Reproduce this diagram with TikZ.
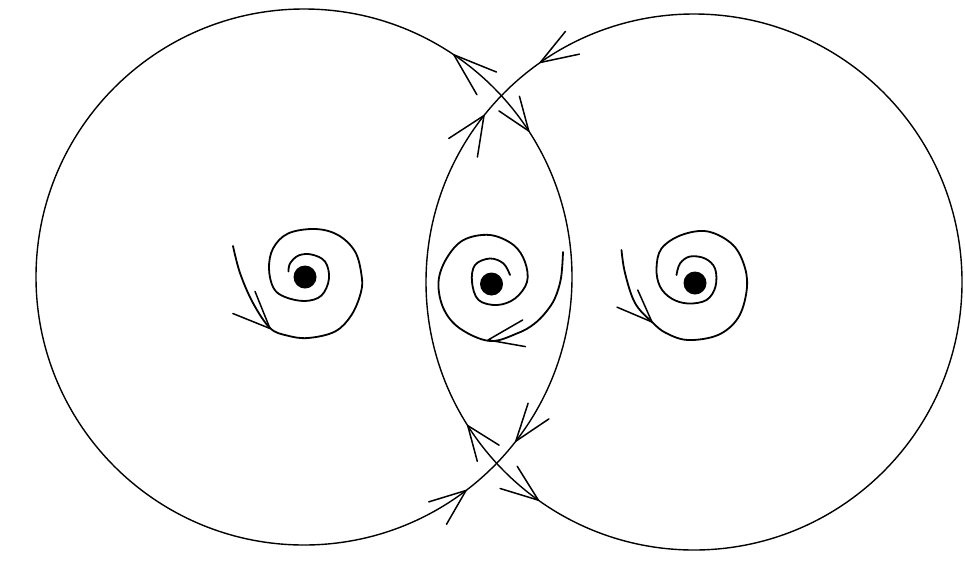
\documentclass[tikz,border=0pt]{standalone}
\begin{document}
\begin{tikzpicture}[x=1pt,y=-1pt,
  orbit/.style={line width=1.4pt},
  spiralline/.style={line width=1.8pt, line join=round, line cap=round},
  barb/.style={line width=1.5pt, line cap=round},
  eqpoint/.style={fill=black}]
\useasboundingbox[fill=white] (0,0) rectangle (965,574);
% the two circular orbits
\coordinate (C1) at (304,277);
\coordinate (C2) at (694,282);
\draw[orbit] (C1) circle[radius=268];
\draw[orbit] (C2) circle[radius=268];
% arrow tips on the circles
\path (C1) ++(-56:268) coordinate (A1);
\path (C1) ++(-33:268) coordinate (A2);
\path (C1) ++(37.8:268) coordinate (A3);
\path (C1) ++(52.8:268) coordinate (A4);
\path (C2) ++(-125:268) coordinate (B1);
\path (C2) ++(-141.6:268) coordinate (B2);
\path (C2) ++(147.6:268) coordinate (B3);
\path (C2) ++(125.5:268) coordinate (B4);
\draw[barb] (A1) -- ++(60:46) (A1) -- ++(22:46);
\draw[barb] (A2) -- ++(-105:36) (A2) -- ++(-146:36);
\draw[barb] (A3) -- ++(-72:40) (A3) -- ++(-34:40);
\draw[barb] (A4) -- ++(163:39) (A4) -- ++(120:39);
\draw[barb] (B1) -- ++(-51:40) (B1) -- ++(-12:40);
\draw[barb] (B2) -- ++(147:42) (B2) -- ++(99:42);
\draw[barb] (B3) -- ++(32:37) (B3) -- ++(75:37);
\draw[barb] (B4) -- ++(-163:40) (B4) -- ++(-122:40);
% equilibrium points
\fill[eqpoint] (305,277) circle[radius=11.5];
\fill[eqpoint] (491.5,284) circle[radius=11.5];
\fill[eqpoint] (695,283) circle[radius=11.5];
% left spiral
\draw[spiralline] plot[smooth, tension=0.6] coordinates {
 (233,246) (240,273) (253,303) (270,328) (287,335.5) (308,338) (335,331.5)
 (351.5,315) (361,292) (361.5,275) (355,251.5) (338,235) (315,229)
 (288,233.5) (273,248.5) (269,268.5) (273.5,288) (285,297) (305,301)
 (321.5,295.5) (329,278.5) (325,261.5) (311.5,254.5) (298.5,255.5)
 (290,263.5) (288.5,271.5)};
\coordinate (L) at (270,328.5);
\draw[barb] (L) -- ++(-158:40) (L) -- ++(-112:40);
% middle spiral
\draw[spiralline] plot[smooth, tension=0.6] coordinates {
 (563,252) (561,278) (555,298) (546,312) (534,324) (518,333) (490,341)
 (460,328.5) (443.5,308.5) (438.5,282) (446.5,258.5) (463.5,240) (490,235)
 (513.5,245) (525,262) (527,282) (515,298.5) (497,305) (478.5,300)
 (472,282) (475,265) (490,258.5) (503.5,263.5) (510,275)};
\coordinate (M) at (488,340);
\draw[barb] (M) -- ++(-30:40) (M) -- ++(10:38);
% right spiral
\draw[spiralline] plot[smooth, tension=0.6] coordinates {
 (621.5,250) (625,273) (635,303) (652,322) (666,333) (688,340) (718,335)
 (738,318) (746.5,291.5) (745,268) (733,245) (708,231.5) (681.5,235)
 (661.5,248.5) (656.5,268.5) (660,286.5) (671.5,298.5) (688,303.5)
 (706.5,300) (715.5,286.5) (715,268.5) (705,258.5) (690,256.5)
 (680,263.5) (676.5,275)};
\coordinate (R) at (652,322);
\draw[barb] (R) -- ++(-157:38) (R) -- ++(-114:35);
\end{tikzpicture}
\end{document}
